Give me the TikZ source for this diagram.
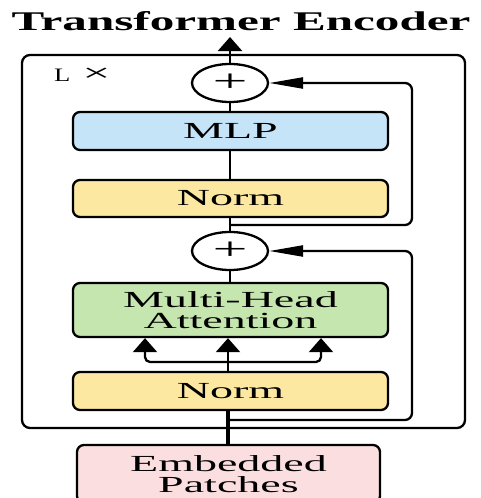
\documentclass[tikz,border=0pt]{standalone}
\usepackage{fontspec}
\newfontfamily\wf{Liberation Serif}[FakeStretch=2.0]
\newfontfamily\tf{Liberation Serif}[FakeStretch=1.82]
\newfontfamily\lf{Liberation Serif}[FakeStretch=1.4]
\usetikzlibrary{arrows.meta,shapes.geometric}
\definecolor{mlpblue}{RGB}{198,228,247}
\definecolor{normyellow}{RGB}{253,232,162}
\definecolor{mhagreen}{RGB}{197,230,174}
\definecolor{embpink}{RGB}{251,222,223}
\tikzset{
  blk/.style={draw, line width=2.3pt, rounded corners=7pt, minimum width=315pt, inner sep=0pt, align=center, font=\wf\fontsize{23}{21}\selectfont},
  addc/.style={draw, ellipse, line width=2.3pt, minimum width=76pt, minimum height=38pt, inner sep=0pt, font=\wf\fontsize{31}{31}\selectfont},
  conn/.style={line width=2.3pt},
  varr/.style={line width=2.3pt, -{Triangle[width=24pt,length=14pt]}},
  harr/.style={line width=2.3pt, rounded corners=7pt, -{Triangle[width=11pt,length=34pt]}}
}
\begin{document}
\begin{tikzpicture}[x=1pt,y=-1pt]
\useasboundingbox (0,0) rectangle (480,498);
\clip (0,0) rectangle (480,498);
\node[anchor=base, inner sep=0pt, font=\tf\bfseries\fontsize{27}{27}\selectfont] (title) at (241,30) {Transformer Encoder};
\node[draw, line width=2.3pt, rounded corners=8pt, minimum width=443pt, minimum height=373pt, inner sep=0pt] (outer) at (243.5,241.5) {};
\node[anchor=base west, inner sep=0pt, font=\lf\fontsize{19}{19}\selectfont] (lx) at (54,81) {L\hspace{12pt}{\wf\fontsize{25}{25}\selectfont\texttimes}};
\node[addc] (plus1) at (230,83) {+};
\node[addc] (plus2) at (230,251) {+};
\node[blk, fill=mlpblue, minimum height=38pt] (mlp) at (230.5,131) {MLP};
\node[blk, fill=normyellow, minimum height=37pt] (norm2) at (230.5,198.5) {Norm};
\node[blk, fill=mhagreen, minimum height=54pt] (mha) at (230.5,310) {Multi-Head\\Attention};
\node[blk, fill=normyellow, minimum height=38pt] (norm1) at (230.5,391) {Norm};
\node[blk, fill=embpink, minimum width=303pt, minimum height=58pt] (emb) at (228.5,474) {Embedded\\Patches};
\coordinate (r1) at (230,420);
\coordinate (r2) at (230,225);
\coordinate (s1) at (230,362);
\coordinate (top) at (230,37);
% main flow
\draw[line width=4pt] (emb.north -| 228,0) -- (norm1.south -| 228,0);
\draw[varr] (norm1.north -| 228,0) -- (mha.south -| 228,0);
\draw[varr, rounded corners=5pt] (s1) -- (145,362) -- (mha.south -| 145,0);
\draw[varr, rounded corners=5pt] (s1) -- (321,362) -- (mha.south -| 321,0);
\draw[conn] (mha.north -| plus2) -- (plus2.south);
\draw[conn] (plus2.north) -- (norm2.south -| plus2);
\draw[conn] (norm2.north -| plus1) -- (mlp.south -| plus1);
\draw[conn] (mlp.north -| plus1) -- (plus1.south);
\draw[varr] (plus1.north) -- (top);
% residuals
\draw[harr] (r1) -- (412,420) -- (412,251) -- (plus2.east);
\draw[harr] (r2) -- (412,225) -- (412,83) -- (plus1.east);
\end{tikzpicture}
\end{document}
